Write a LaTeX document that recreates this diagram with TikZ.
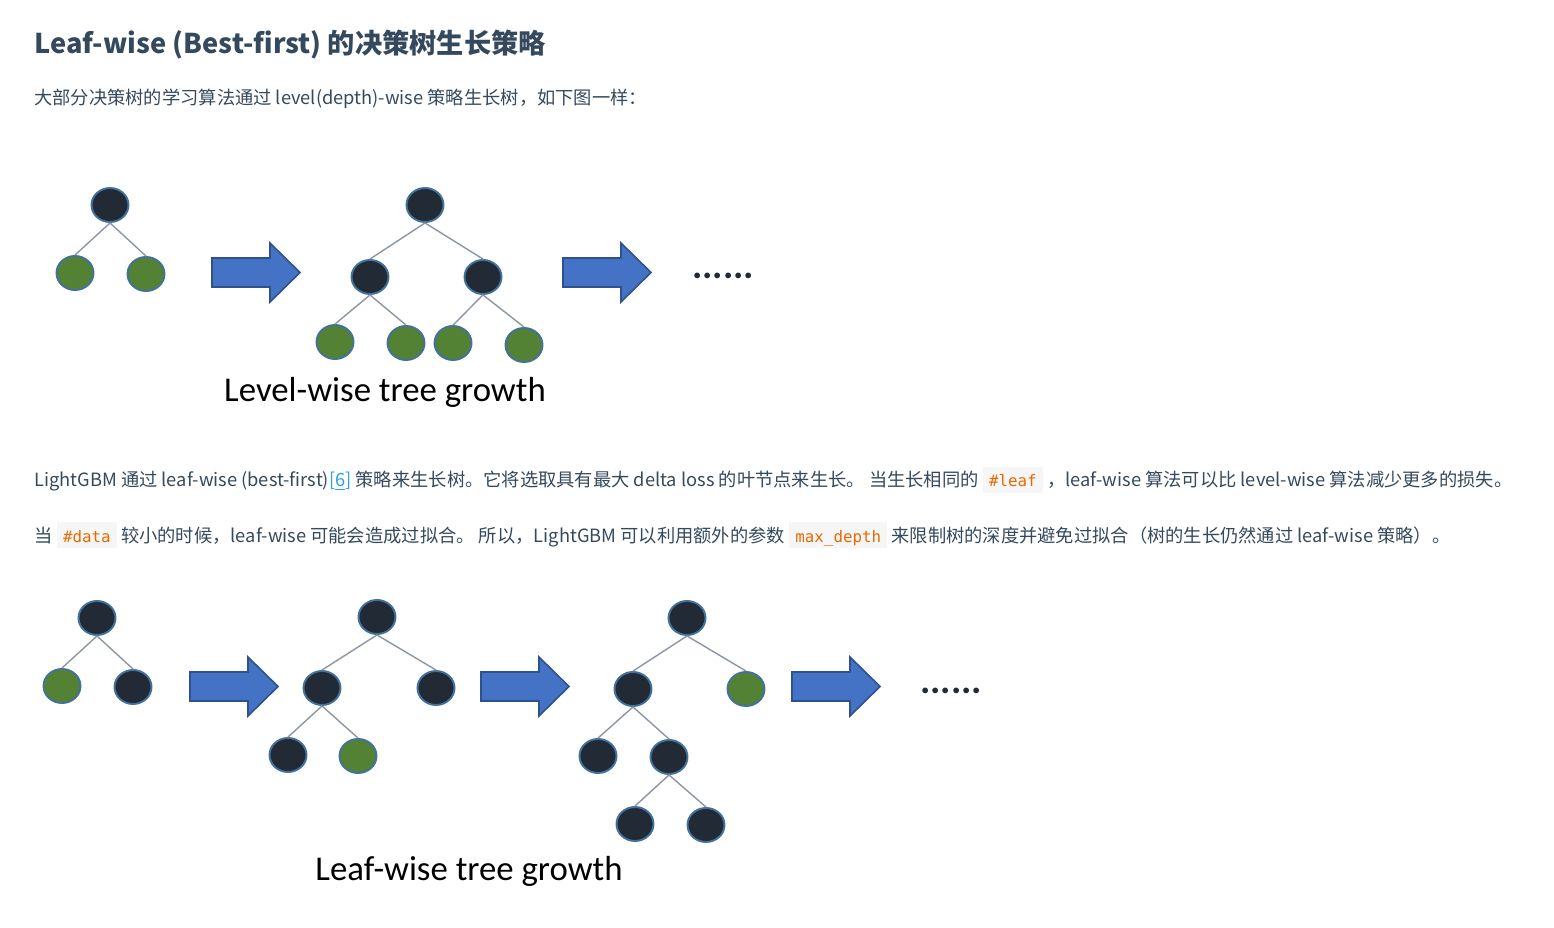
\documentclass[tikz,border=0pt]{standalone}
\usepackage{fontspec}
\setmainfont{Noto Sans CJK SC}
\newfontfamily\diagramFont{Carlito}
\newfontfamily\codeFont{DejaVu Sans Mono}
\usepackage{tikz}
\usetikzlibrary{positioning, shapes.geometric}
\definecolor{docText}{HTML}{34495E}
\definecolor{linkBlue}{HTML}{2AA0E8}
\definecolor{codeOrange}{HTML}{E96900}
\definecolor{codeGrey}{HTML}{F6F6F6}
\definecolor{nodeDark}{HTML}{222A35}
\definecolor{nodeGreen}{HTML}{548235}
\definecolor{nodeRim}{HTML}{41719C}
\definecolor{edgeGrey}{HTML}{8C96A2}
\definecolor{arrowFill}{HTML}{4472C4}
\definecolor{arrowRim}{HTML}{2F528F}
\newcommand{\inlineCode}[1]{{\setlength{\fboxsep}{0pt}\colorbox{codeGrey}{\rule[-3.4pt]{0pt}{14.7pt}\hspace{3.6pt}{\codeFont\fontsize{9pt}{10pt}\selectfont\textcolor{codeOrange}{#1}}\hspace{3.6pt}}}}
\newcommand{\growArrow}[2]{%
  \draw[growArrow] (#1,#2) ++(0,-14.5) -- ++(58,0) -- ++(0,-15) -- ++(30,29.5)
    -- ++(-30,29.5) -- ++(0,-15) -- ++(-58,0) -- cycle;}

\begin{document}
\begin{tikzpicture}[x=0.02cm, y=-0.02cm,
  treeNode/.style={ellipse, draw=nodeRim, line width=1.1pt, minimum width=0.74cm,
    minimum height=0.68cm, inner sep=0pt},
  darkNode/.style={treeNode, fill=nodeDark},
  leafNode/.style={treeNode, fill=nodeGreen},
  edgeLine/.style={draw=edgeGrey, line width=0.8pt},
  growArrow/.style={fill=arrowFill, draw=arrowRim, line width=0.9pt, line join=miter},
  bodyText/.style={anchor=base west, inner sep=0pt, text=docText,
    font=\fontsize{10.4pt}{12pt}\selectfont},
  caption/.style={inner sep=0pt, font=\diagramFont\fontsize{19.8pt}{22pt}\selectfont},
  moreDots/.style={inner sep=0pt, text=nodeDark, font=\diagramFont\bfseries\fontsize{22pt}{24pt}\selectfont}]

\useasboundingbox (0,0) rectangle (1554,928);

% heading and text
\node[bodyText, font=\bfseries\fontsize{15.5pt}{19pt}\selectfont] (title) at (34,54)
  {Leaf-wise (Best-first) 的决策树生长策略};
\node[bodyText] (intro) at (34,104.5)
  {大部分决策树的学习算法通过 level(depth)-wise 策略生长树，如下图一样：};
\node[bodyText] (lineA) at (34,487)
  {LightGBM 通过 leaf-wise (best-first){\color{linkBlue}[\underline{6}]} 策略来生长树。它将选取具有最大 delta loss 的叶节点来生长。 当生长相同的 \inlineCode{\#leaf} ，leaf-wise 算法可以比 level-wise 算法减少更多的损失。};
\node[bodyText] (lineB) at (34,542)
  {当 \inlineCode{\#data} 较小的时候，leaf-wise 可能会造成过拟合。 所以，LightGBM 可以利用额外的参数 \inlineCode{max\_depth} 来限制树的深度并避免过拟合（树的生长仍然通过 leaf-wise 策略）。};

% level-wise growth
\node[darkNode] (lvRoot) at (110,205) {};
\node[leafNode] (lvL) at (75,273) {};
\node[leafNode] (lvR) at (146,274) {};
\draw[edgeLine] (lvRoot.south) -- (lvL.north) (lvRoot.south) -- (lvR.north);

\node[darkNode] (lwRoot) at (425,205) {};
\node[darkNode] (lwL) at (370,277) {};
\node[darkNode] (lwR) at (483,277) {};
\node[leafNode] (lwLL) at (335,342) {};
\node[leafNode] (lwLR) at (406,343) {};
\node[leafNode] (lwRL) at (453,343) {};
\node[leafNode] (lwRR) at (524,345) {};
\draw[edgeLine] (lwRoot.south) -- (lwL.north) (lwRoot.south) -- (lwR.north)
  (lwL.south) -- (lwLL.north) (lwL.south) -- (lwLR.north)
  (lwR.south) -- (lwRL.north) (lwR.south) -- (lwRR.north);

\growArrow{212}{272.5}
\growArrow{563}{272.5}
\node[moreDots] (lvDots) at (723,276) {......};
\node[caption] (lvCaption) at (385,392) {Level-wise tree growth};

% leaf-wise growth
\node[darkNode] (lfRoot) at (97,618) {};
\node[leafNode] (lfL) at (62,686) {};
\node[darkNode] (lfR) at (133,687) {};
\draw[edgeLine] (lfRoot.south) -- (lfL.north) (lfRoot.south) -- (lfR.north);

\node[darkNode] (lsRoot) at (377,617) {};
\node[darkNode] (lsL) at (322,688) {};
\node[darkNode] (lsR) at (436,688) {};
\node[darkNode] (lsLL) at (288,755) {};
\node[leafNode] (lsLR) at (358,756) {};
\draw[edgeLine] (lsRoot.south) -- (lsL.north) (lsRoot.south) -- (lsR.north)
  (lsL.south) -- (lsLL.north) (lsL.south) -- (lsLR.north);

\node[darkNode] (ltRoot) at (687,618) {};
\node[darkNode] (ltL) at (633,689) {};
\node[leafNode] (ltR) at (746,689) {};
\node[darkNode] (ltLL) at (598,756) {};
\node[darkNode] (ltLR) at (669,757) {};
\node[darkNode] (ltLRL) at (635,824) {};
\node[darkNode] (ltLRR) at (706,825) {};
\draw[edgeLine] (ltRoot.south) -- (ltL.north) (ltRoot.south) -- (ltR.north)
  (ltL.south) -- (ltLL.north) (ltL.south) -- (ltLR.north)
  (ltLR.south) -- (ltLRL.north) (ltLR.south) -- (ltLRR.north);

\growArrow{190}{686.5}
\growArrow{481}{686.5}
\growArrow{792}{686.5}
\node[moreDots] (lfDots) at (951,691) {......};
\node[caption] (lfCaption) at (469,871) {Leaf-wise tree growth};

\end{tikzpicture}
\end{document}
